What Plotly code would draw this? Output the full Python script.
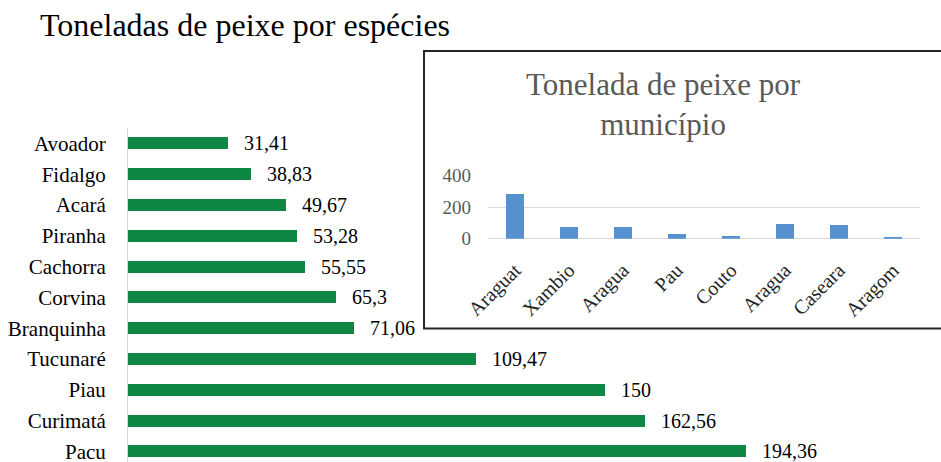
import plotly.graph_objects as go

# Main chart data (species)
species = ["Avoador", "Fidalgo", "Acará", "Piranha", "Cachorra", "Corvina",
           "Branquinha", "Tucunaré", "Piau", "Curimatá", "Pacu"]
species_tons = [31.41, 38.83, 49.67, 53.28, 55.55, 65.3, 71.06, 109.47, 150, 162.56, 194.36]

# Inset chart data (municipalities)
municipios = ["Araguat", "Xambio", "Aragua", "Pau", "Couto", "Aragua", "Caseara", "Aragom"]
municipio_tons = [288, 74, 74, 30, 17, 95, 91, 13]
inset_ticks = [0, 200, 400]

W, H = 941, 462
FONT = "Liberation Serif"

def px_x(p):
    return p / W

def px_y(p):
    return 1 - p / H

fig = go.Figure()

idx = list(range(len(species)))
fig.add_trace(go.Bar(
    x=species_tons, y=idx, orientation="h",
    marker=dict(color="#0E8744", line=dict(width=0)),
    width=0.39, xaxis="x", yaxis="y", hoverinfo="x+y",
))

midx = list(range(len(municipios)))
fig.add_trace(go.Bar(
    x=midx, y=municipio_tons,
    marker=dict(color="#5591CF", line=dict(width=0)),
    width=0.35, xaxis="x2", yaxis="y2",
))

annotations = []
for i, v in enumerate(species_tons):
    annotations.append(dict(
        x=v, y=i, xref="x", yref="y", text=f"{v:g}".replace(".", ","),
        showarrow=False, xanchor="left", yanchor="middle", xshift=14,
        font=dict(family=FONT, size=20, color="#000000"),
    ))

annotations.append(dict(
    x=px_x(38), y=px_y(25), xref="paper", yref="paper",
    text="Toneladas de peixe por espécies", showarrow=False,
    xanchor="left", yanchor="middle",
    font=dict(family=FONT, size=32, color="#000000"),
))
annotations.append(dict(
    x=px_x(663), y=px_y(104), xref="paper", yref="paper",
    text="Tonelada de peixe por<br>município", showarrow=False,
    xanchor="center", yanchor="middle", align="center",
    font=dict(family=FONT, size=31, color="#595959"),
))

shapes = [dict(
    type="rect", xref="paper", yref="paper",
    x0=px_x(424), x1=px_x(960), y0=px_y(328.5), y1=px_y(51),
    line=dict(color="#262626", width=2), fillcolor="white", layer="below",
)]

scale = (746 - 128) / 194.36

fig.update_layout(
    width=W, height=H,
    margin=dict(l=0, r=0, t=0, b=0, pad=0),
    paper_bgcolor="white", plot_bgcolor="rgba(0,0,0,0)",
    showlegend=False,
    bargap=0,
    annotations=annotations,
    shapes=shapes,
    xaxis=dict(domain=[px_x(128), 1], range=[0, (W - 128) / scale],
               visible=False, anchor="y", automargin=False),
    yaxis=dict(domain=[0, px_y(128)], range=[(462 - 128) / 30.8 - 0.5, -0.5],
               tickvals=idx, ticktext=species, anchor="x", automargin=False,
               showline=True, linecolor="#D9D9D9", linewidth=1,
               showgrid=False, zeroline=False, ticks="",
               ticklabelstandoff=17, ticklabeloverflow="allow",
               tickfont=dict(family=FONT, size=21, color="#000000")),
    xaxis2=dict(domain=[px_x(488), px_x(920)], range=[-0.5, 7.5], anchor="y2",
                automargin=False,
                tickvals=midx, ticktext=municipios, tickangle=-45,
                showgrid=False, zeroline=False, showline=False, ticks="",
                ticklabelstandoff=15, ticklabeloverflow="allow",
                tickfont=dict(family=FONT, size=20, color="#262626")),
    yaxis2=dict(domain=[px_y(238.7), px_y(175.7)], range=[0, 400], anchor="x2",
                automargin=False,
                tickvals=inset_ticks, showgrid=True, gridcolor="#D9D9D9",
                zeroline=True, zerolinecolor="#D9D9D9", zerolinewidth=1,
                showline=False, ticks="", ticklabelstandoff=16,
                tickfont=dict(family=FONT, size=19, color="#595959")),
)

fig.write_html(
    "out.html",
    config={"displayModeBar": False},
    post_script="document.body.style.margin='0';document.body.style.overflow='hidden';",
)
